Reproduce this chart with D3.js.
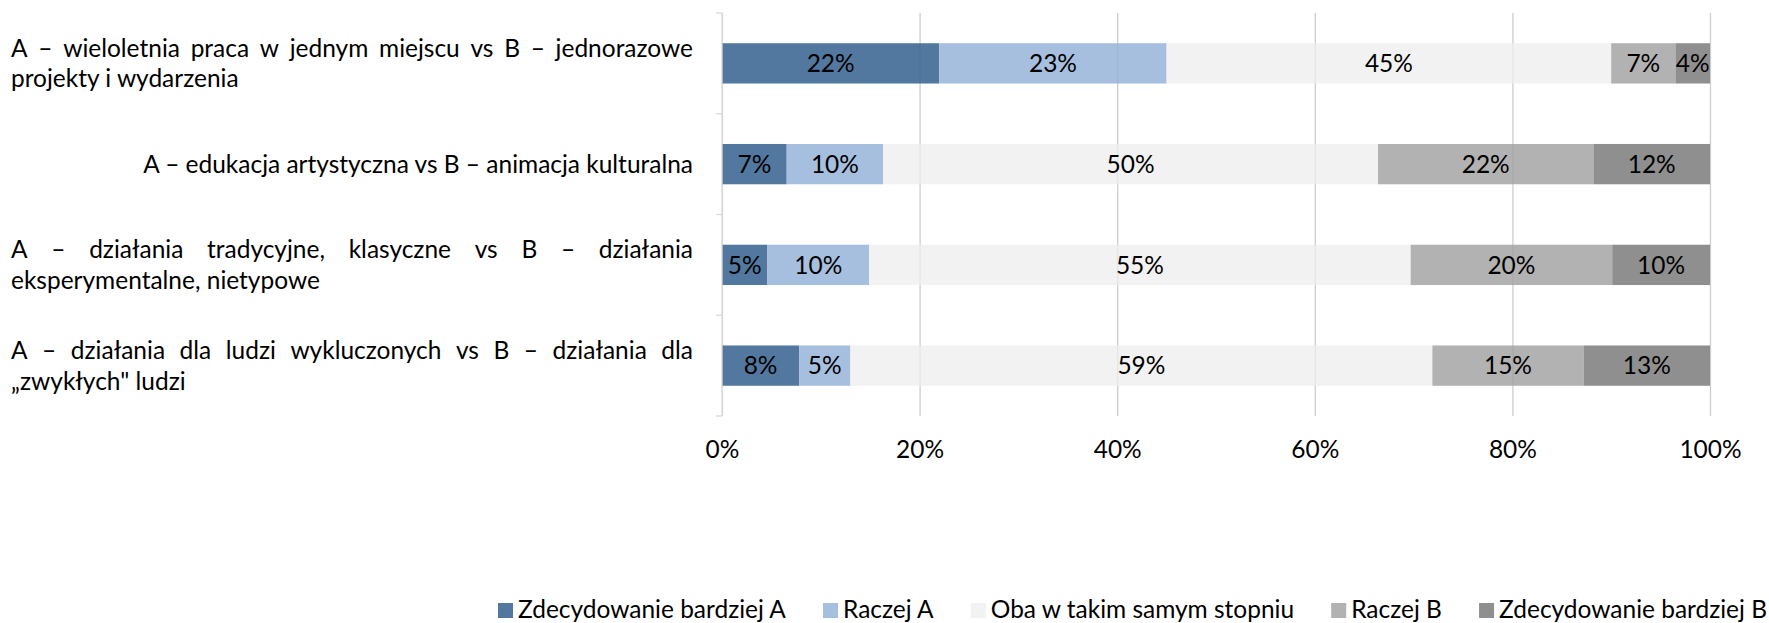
<!DOCTYPE html>
<html>
<head>
<meta charset="utf-8">
<script src="https://cdn.jsdelivr.net/npm/d3@7"></script>
<style>
  html, body { margin: 0; padding: 0; background: #ffffff; }
  svg { display: block; }
</style>
</head>
<body>
<script>
// ---------------- DATA ----------------
const categories = [
  "A – wieloletnia praca w jednym miejscu vs B – jednorazowe projekty i wydarzenia",
  "A – edukacja artystyczna vs B – animacja kulturalna",
  "A – działania tradycyjne, klasyczne vs B – działania eksperymentalne, nietypowe",
  "A – działania dla ludzi wykluczonych vs B – działania dla „zwykłych\" ludzi"
];
// label line breaks as in the reference
const categoryLines = [
  ["A – wieloletnia praca w jednym miejscu vs B – jednorazowe", "projekty i wydarzenia"],
  ["A – edukacja artystyczna vs B – animacja kulturalna"],
  ["A – działania tradycyjne, klasyczne vs B – działania", "eksperymentalne, nietypowe"],
  ["A – działania dla ludzi wykluczonych vs B – działania dla", "„zwykłych\" ludzi"]
];
const seriesNames = ["Zdecydowanie bardziej A", "Raczej A", "Oba w takim samym stopniu", "Raczej B", "Zdecydowanie bardziej B"];
const zdecydowanieA = [22.0, 6.55, 4.6, 7.8];
const raczejA       = [23.0, 9.75, 10.3, 5.2];
const obaTakSamo    = [45.0, 50.1, 54.8, 58.9];
const raczejB       = [6.5, 21.8, 20.4, 15.3];
const zdecydowanieB = [3.5, 11.8, 9.9, 12.8];
const xTicks = [0, 20, 40, 60, 80, 100];

// ---------------- STYLE ----------------
const palette = ["#53789F", "#A7BFDE", "#F2F2F2", "#B2B2B2", "#8F8F8F"];
const FAMILY = "Lato, 'Open Sans', sans-serif";
const W = 1769, H = 623;

const svg = d3.select("body").append("svg")
  .attr("width", W).attr("height", H)
  .style("font-family", FAMILY);

// fit font size to the reference text width
const probe = svg.append("text").style("font-size", "100px").text(categoryLines[1][0]);
const w100 = probe.node().getComputedTextLength();
probe.remove();
const fs = Math.max(16, Math.min(26, 100 * 550 / w100));

const plotTop = 13, plotBottom = 416, plotLeft = 722, plotRight = 1710;

const x = d3.scaleLinear().domain([0, 100]).range([plotLeft, plotRight]);
const y = d3.scaleBand().domain(categories).range([plotTop, plotBottom])
  .paddingInner(0.6).paddingOuter(0.3);

// rows for stack
const valueArrays = [zdecydowanieA, raczejA, obaTakSamo, raczejB, zdecydowanieB];
const rows = categories.map((c, i) => {
  const r = { cat: c };
  seriesNames.forEach((s, k) => r[s] = valueArrays[k][i]);
  return r;
});
const stacked = d3.stack().keys(seriesNames)(rows);

// gridlines
svg.append("g")
  .attr("transform", `translate(0,${plotBottom})`)
  .call(d3.axisBottom(x).tickValues(xTicks).tickSize(-(plotBottom - plotTop)).tickFormat(""))
  .call(g => g.select(".domain").remove())
  .call(g => g.selectAll("line").attr("stroke", "#D9D9D9").attr("stroke-width", 1.3));

// bars
const layers = svg.append("g").selectAll("g").data(stacked).join("g")
  .attr("fill", (d, i) => palette[i]);
layers.selectAll("rect").data(d => d).join("rect")
  .attr("x", d => x(d[0]))
  .attr("y", d => y(d.data.cat))
  .attr("width", d => x(d[1]) - x(d[0]))
  .attr("height", y.bandwidth());

// faint gridlines through bars
svg.append("g")
  .attr("transform", `translate(0,${plotBottom})`)
  .call(d3.axisBottom(x).tickValues(xTicks.slice(1)).tickSize(-(plotBottom - plotTop)).tickFormat(""))
  .call(g => g.select(".domain").remove())
  .call(g => g.selectAll("line").attr("stroke", "#000").attr("stroke-opacity", 0.05).attr("stroke-width", 1.3));

// data labels
layers.selectAll("text").data(d => d).join("text")
  .attr("x", d => x((d[0] + d[1]) / 2))
  .attr("y", d => y(d.data.cat) + y.bandwidth() / 2 + 0.36 * fs)
  .attr("text-anchor", "middle")
  .attr("fill", "#000")
  .style("font-size", fs + "px")
  .text(d => Math.round(d[1] - d[0]) + "%");

// y axis line and ticks
const yAxisG = svg.append("g");
yAxisG.append("line")
  .attr("x1", plotLeft).attr("x2", plotLeft)
  .attr("y1", plotTop).attr("y2", plotBottom)
  .attr("stroke", "#D9D9D9").attr("stroke-width", 1.3);
d3.range(categories.length + 1).forEach(i => {
  const yy = plotTop + i * y.step();
  yAxisG.append("line")
    .attr("x1", plotLeft - 6).attr("x2", plotLeft)
    .attr("y1", yy).attr("y2", yy)
    .attr("stroke", "#D9D9D9").attr("stroke-width", 1.3);
});

// x tick labels
svg.append("g")
  .attr("transform", `translate(0,${plotBottom})`)
  .call(d3.axisBottom(x).tickValues(xTicks).tickSize(0).tickFormat(d => d + "%"))
  .call(g => g.select(".domain").remove())
  .call(g => g.selectAll("text")
    .attr("y", 458 - plotBottom).attr("dy", 0)
    .attr("fill", "#000")
    .style("font-size", fs + "px")
    .style("font-family", FAMILY));

// category labels (justified blocks)
const labelLeft = 11, labelRight = 693, lineH = 30.5;
const labG = svg.append("g").style("font-size", fs + "px").attr("fill", "#000");
function measure(t) {
  const n = labG.append("text").text(t);
  const w = n.node().getComputedTextLength();
  n.remove();
  return w;
}
categoryLines.forEach((lines, ci) => {
  const cy = y(categories[ci]) + y.bandwidth() / 2;
  const n = lines.length;
  const firstBase = cy - (n - 1) * lineH / 2 + 0.36 * fs;
  lines.forEach((line, li) => {
    const by = firstBase + li * lineH;
    if (n === 1) {
      labG.append("text").attr("x", labelRight).attr("y", by)
        .attr("text-anchor", "end").text(line);
    } else if (li === n - 1) {
      labG.append("text").attr("x", labelLeft).attr("y", by).text(line);
    } else {
      const words = line.split(" ");
      const widths = words.map(measure);
      const gap = (labelRight - labelLeft - d3.sum(widths)) / (words.length - 1);
      let cx = labelLeft;
      words.forEach((w, wi) => {
        labG.append("text").attr("x", cx).attr("y", by).text(w);
        cx += widths[wi] + gap;
      });
    }
  });
});

// legend
const legLeft = 498, legRight = 1767, sq = 15, sqGap = 5, legBase = 617.5;
const legG = svg.append("g").style("font-size", fs + "px");
const tW = seriesNames.map(s => {
  const n = legG.append("text").text(s);
  const w = n.node().getComputedTextLength();
  n.remove();
  return w;
});
const itemGap = (legRight - legLeft - d3.sum(tW) - seriesNames.length * (sq + sqGap)) / (seriesNames.length - 1);
let lx = legLeft;
seriesNames.forEach((s, i) => {
  legG.append("rect").attr("x", lx).attr("y", 603).attr("width", sq).attr("height", sq)
    .attr("fill", palette[i]);
  legG.append("text").attr("x", lx + sq + sqGap).attr("y", legBase).attr("fill", "#000").text(s);
  lx += sq + sqGap + tW[i] + itemGap;
});
</script>
</body>
</html>
